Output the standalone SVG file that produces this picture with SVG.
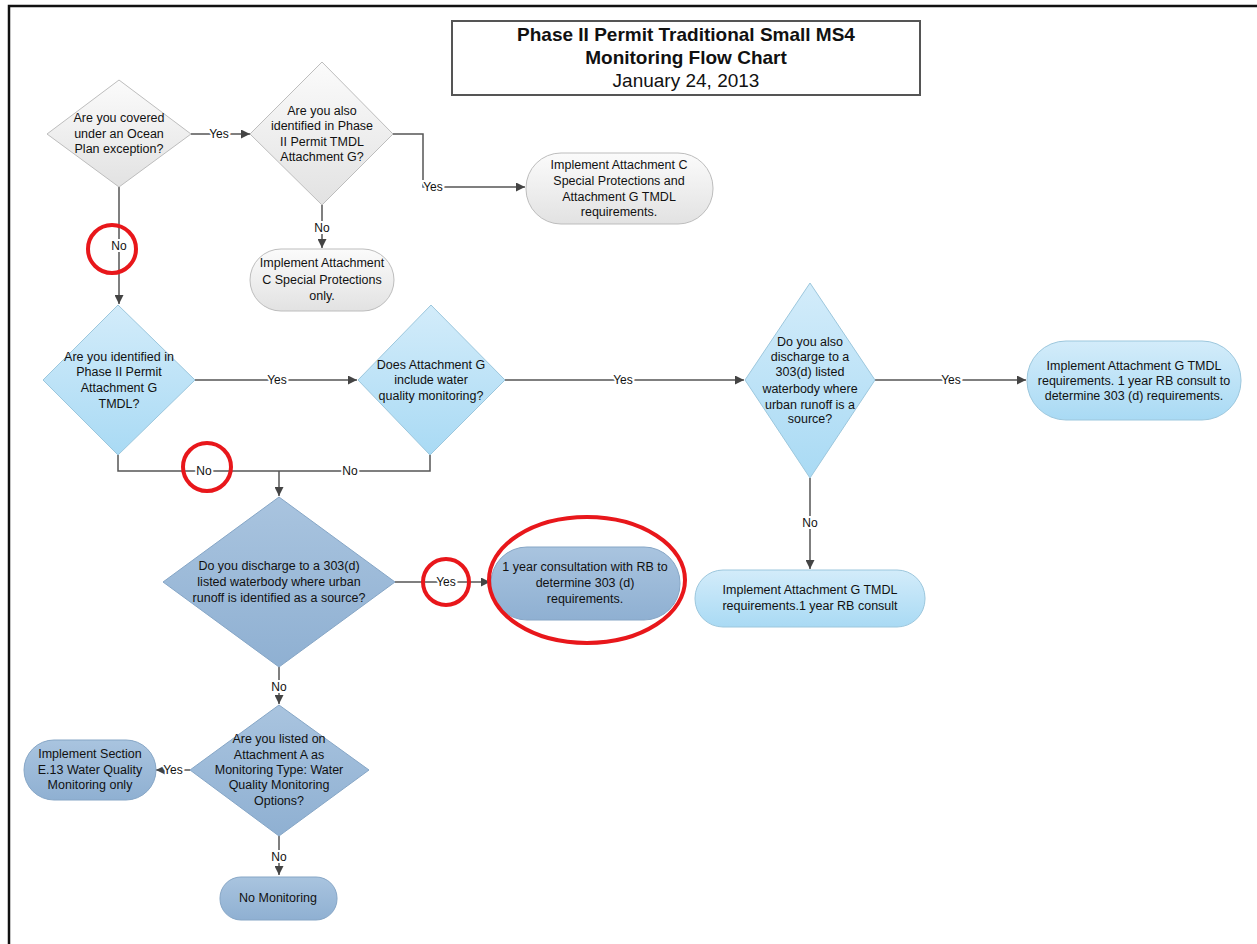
<svg xmlns="http://www.w3.org/2000/svg" width="1257" height="944" viewBox="0 0 1257 944">
<defs>
<linearGradient id="gGray" x1="0" y1="0" x2="0" y2="1"><stop offset="0" stop-color="#fbfbfb"/><stop offset="1" stop-color="#e2e2e2"/></linearGradient>
<linearGradient id="gLight" x1="0" y1="0" x2="0" y2="1"><stop offset="0" stop-color="#d3ecfa"/><stop offset="1" stop-color="#a9daf4"/></linearGradient>
<linearGradient id="gSteel" x1="0" y1="0" x2="0" y2="1"><stop offset="0" stop-color="#a9c4df"/><stop offset="1" stop-color="#8fb0d2"/></linearGradient>
<marker id="arr" viewBox="0 0 10 10" refX="10" refY="5" markerWidth="9" markerHeight="9" markerUnits="userSpaceOnUse" orient="auto"><path d="M0,0 L10,5 L0,10 z" fill="#444"/></marker>
</defs>
<style>
text{font-family:"Liberation Sans",Arial,sans-serif;fill:#111;text-anchor:middle}
.t{font-size:12.5px}
.title{font-size:19px}
.b{font-weight:bold}
.gray{fill:url(#gGray);stroke:#bdbdbd;stroke-width:1}
.light{fill:url(#gLight);stroke:#9cc7dd;stroke-width:1}
.steel{fill:url(#gSteel);stroke:#86a6c6;stroke-width:1}
.c{fill:none;stroke:#555;stroke-width:1.5}
.ca{fill:none;stroke:#555;stroke-width:1.5;marker-end:url(#arr)}
.lbl{font-size:12px;stroke:#fff;stroke-width:4;paint-order:stroke}
.red{fill:none;stroke:#e8171b;stroke-width:4}
</style>
<rect width="1257" height="944" fill="#fff"/>
<path d="M9,944 V6 H1257" fill="none" stroke="#111" stroke-width="2.5"/>

<g id="title">
<rect x="452" y="21" width="468" height="74" fill="#fff" stroke="#555" stroke-width="2"/>
<text class="title b" x="686" y="41">Phase II Permit Traditional Small MS4</text>
<text class="title b" x="686" y="64">Monitoring Flow Chart</text>
<text class="title" x="686" y="87">January 24, 2013</text>
</g>

<g id="connectors">
<path class="ca" d="M191,134 H250"/>
<path class="ca" d="M393,134 H423 V187 H525"/>
<path class="ca" d="M322,205 V248"/>
<path class="ca" d="M119,187 V304"/>
<path class="ca" d="M195,380 H357"/>
<path class="c" d="M118,455 V471 H430 V455"/>
<path class="ca" d="M279,471 V496"/>
<path class="ca" d="M505,380 H744"/>
<path class="ca" d="M875,380 H1026"/>
<path class="ca" d="M810,478 V569"/>
<path class="ca" d="M395,582 H490"/>
<path class="ca" d="M279,667 V704"/>
<path class="ca" d="M190,770 H156"/>
<path class="ca" d="M279,836 V875"/>
<text class="lbl" x="219" y="138">Yes</text>
<text class="lbl" x="433" y="191">Yes</text>
<text class="lbl" x="322" y="232">No</text>
<text class="lbl" x="119" y="250">No</text>
<text class="lbl" x="277" y="384">Yes</text>
<text class="lbl" x="204" y="475">No</text>
<text class="lbl" x="350" y="475">No</text>
<text class="lbl" x="623" y="384">Yes</text>
<text class="lbl" x="951" y="384">Yes</text>
<text class="lbl" x="810" y="527">No</text>
<text class="lbl" x="446" y="586">Yes</text>
<text class="lbl" x="279" y="691">No</text>
<text class="lbl" x="173" y="774">Yes</text>
<text class="lbl" x="279" y="861">No</text>
</g>

<g id="d1">
<polygon class="gray" points="119,80 191,134 119,187 47,134"/>
<text class="t" x="119" y="122">Are you covered</text>
<text class="t" x="119" y="138">under an Ocean</text>
<text class="t" x="119" y="153">Plan exception?</text>
</g>
<g id="d2">
<polygon class="gray" points="322,62 393,134 322,205 250,134"/>
<text class="t" x="322" y="115">Are you also</text>
<text class="t" x="322" y="130">identified in Phase</text>
<text class="t" x="322" y="146">II Permit TMDL</text>
<text class="t" x="322" y="161">Attachment G?</text>
</g>
<g id="n_cg">
<rect class="gray" x="526" y="153" width="187" height="71" rx="35"/>
<text class="t" x="619" y="169">Implement Attachment C</text>
<text class="t" x="619" y="185">Special Protections and</text>
<text class="t" x="619" y="201">Attachment G TMDL</text>
<text class="t" x="619" y="216">requirements.</text>
</g>
<g id="n_c">
<rect class="gray" x="250" y="249" width="144" height="62" rx="31"/>
<text class="t" x="322" y="267">Implement Attachment</text>
<text class="t" x="322" y="284">C Special Protections</text>
<text class="t" x="322" y="300">only.</text>
</g>
<g id="d3">
<polygon class="light" points="118,305 195,380 118,455 43,380"/>
<text class="t" x="119" y="361">Are you identified in</text>
<text class="t" x="119" y="376">Phase II Permit</text>
<text class="t" x="119" y="392">Attachment G</text>
<text class="t" x="119" y="408">TMDL?</text>
</g>
<g id="d4">
<polygon class="light" points="431,305 505,380 430,455 358,380"/>
<text class="t" x="431" y="369">Does Attachment G</text>
<text class="t" x="431" y="384">include water</text>
<text class="t" x="431" y="400">quality monitoring?</text>
</g>
<g id="d5">
<polygon class="light" points="810,283 875,380 810,478 745,380"/>
<text class="t" x="810" y="346">Do you also</text>
<text class="t" x="810" y="361">discharge to a</text>
<text class="t" x="810" y="376">303(d) listed</text>
<text class="t" x="810" y="393">waterbody where</text>
<text class="t" x="810" y="409">urban runoff is a</text>
<text class="t" x="810" y="423">source?</text>
</g>
<g id="n_g303">
<rect class="light" x="1027" y="341" width="214" height="79" rx="39"/>
<text class="t" x="1134" y="370">Implement Attachment G TMDL</text>
<text class="t" x="1134" y="385">requirements. 1 year RB consult to</text>
<text class="t" x="1134" y="400">determine 303 (d) requirements.</text>
</g>
<g id="n_g1">
<rect class="light" x="695" y="570" width="230" height="57" rx="28"/>
<text class="t" x="810" y="594">Implement Attachment G TMDL</text>
<text class="t" x="810" y="610">requirements.1 year RB consult</text>
</g>
<g id="d6">
<polygon class="steel" points="279,497 395,582 279,667 163,582"/>
<text class="t" x="279" y="570">Do you discharge to a 303(d)</text>
<text class="t" x="279" y="586">listed waterbody where urban</text>
<text class="t" x="279" y="602">runoff is identified as a source?</text>
</g>
<g id="n_1yr">
<rect class="steel" x="491" y="547" width="189" height="73" rx="36"/>
<text class="t" x="585" y="571">1 year consultation with RB to</text>
<text class="t" x="585" y="587">determine 303 (d)</text>
<text class="t" x="585" y="603">requirements.</text>
</g>
<g id="d7">
<polygon class="steel" points="279,705 369,770 279,836 190,770"/>
<text class="t" x="279" y="743">Are you listed on</text>
<text class="t" x="279" y="759">Attachment A as</text>
<text class="t" x="279" y="774">Monitoring Type: Water</text>
<text class="t" x="279" y="789">Quality Monitoring</text>
<text class="t" x="279" y="805">Options?</text>
</g>
<g id="n_e13">
<rect class="steel" x="24" y="740" width="132" height="60" rx="30"/>
<text class="t" x="90" y="758">Implement Section</text>
<text class="t" x="90" y="774">E.13 Water Quality</text>
<text class="t" x="90" y="789">Monitoring only</text>
</g>
<g id="n_none">
<rect class="steel" x="220" y="877" width="117" height="43" rx="21"/>
<text class="t" x="278" y="902">No Monitoring</text>
</g>

<g id="highlights">
<circle class="red" cx="112" cy="249" r="24"/>
<circle class="red" cx="207" cy="467" r="24"/>
<circle class="red" cx="446" cy="582" r="23"/>
<ellipse class="red" cx="587" cy="580" rx="98" ry="63"/>
</g>
</svg>
